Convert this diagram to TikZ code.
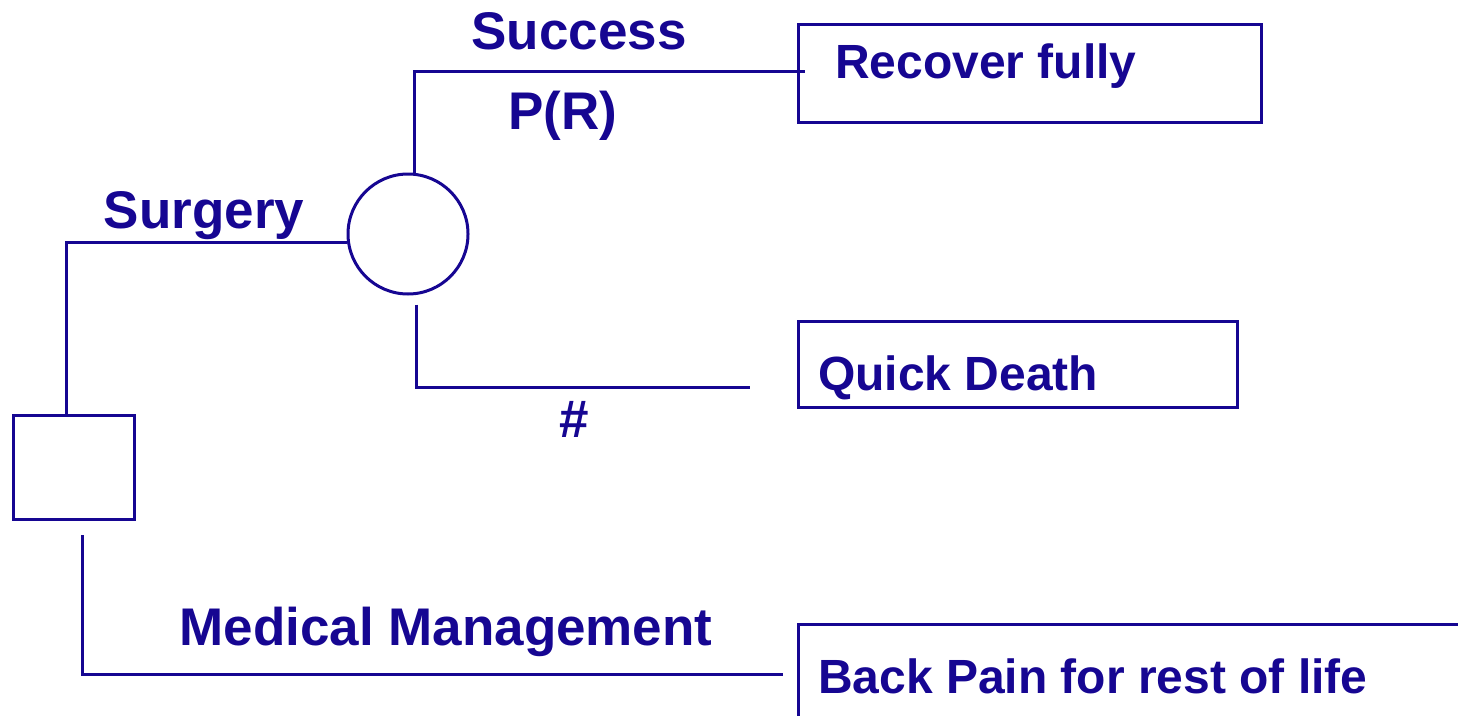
\documentclass[tikz,border=0pt]{standalone}
\usepackage{fontspec}
\setmainfont{Liberation Sans}
\usepackage{tikz}
\definecolor{treeblue}{RGB}{22,6,146}

\begin{document}
\begin{tikzpicture}[x=1pt,y=-1pt,
  branch/.style={treeblue, line width=3pt},
  outbox/.style={draw=treeblue, line width=3pt, rectangle, anchor=north west, inner sep=0pt},
  lbl/.style={text=treeblue, font=\fontsize{53}{60}\selectfont\bfseries, anchor=base, inner sep=0pt},
  outtxt/.style={text=treeblue, font=\fontsize{48}{56}\selectfont\bfseries, anchor=base west, inner sep=0pt}]

\useasboundingbox (0,0) rectangle (1458,715);
\clip (0,0) rectangle (1458,715);

% decision and chance
\node[outbox, minimum width=121pt, minimum height=104pt] (dec) at (12,414) {};
\node[draw=treeblue, line width=3pt, circle, minimum size=120pt, inner sep=0pt] (chance) at (408,234) {};

% outcomes
\node[outbox, minimum width=463pt, minimum height=98pt] (rf) at (797,23) {};
\node[outbox, minimum width=439pt, minimum height=86pt] (qd) at (797,320) {};
\node[outbox, minimum width=800pt, minimum height=200pt] (bp) at (797,623) {};

\node[outtxt] (rf-txt) at (835,78) {Recover fully};
\node[outtxt] (qd-txt) at (818,390) {Quick Death};
\node[outtxt] (bp-txt) at (818,693) {Back Pain for rest of life};

% branches
\coordinate (qd-in) at (750,387);
\coordinate (bp-in) at (783,674);
\draw[branch] ([xshift=-8pt]dec.north) |- (chance.188);
\draw[branch] ([xshift=6pt]chance.north) |- ([xshift=8pt,yshift=2pt]rf.west);
\draw[branch] ([shift={(8,9)}]chance.south) |- (qd-in);
\draw[branch] ([shift={(8,14)}]dec.south) |- (bp-in);

\node[lbl] (surgery) at (204,228) {Surgery};
\node[lbl] (success) at (579,49) {Success};
\node[lbl] (prob) at (563,129) {P(R)};
\node[lbl] (hash) at (574,437) {\#};
\node[lbl] (medical) at (446,645) {Medical Management};

\end{tikzpicture}
\end{document}
